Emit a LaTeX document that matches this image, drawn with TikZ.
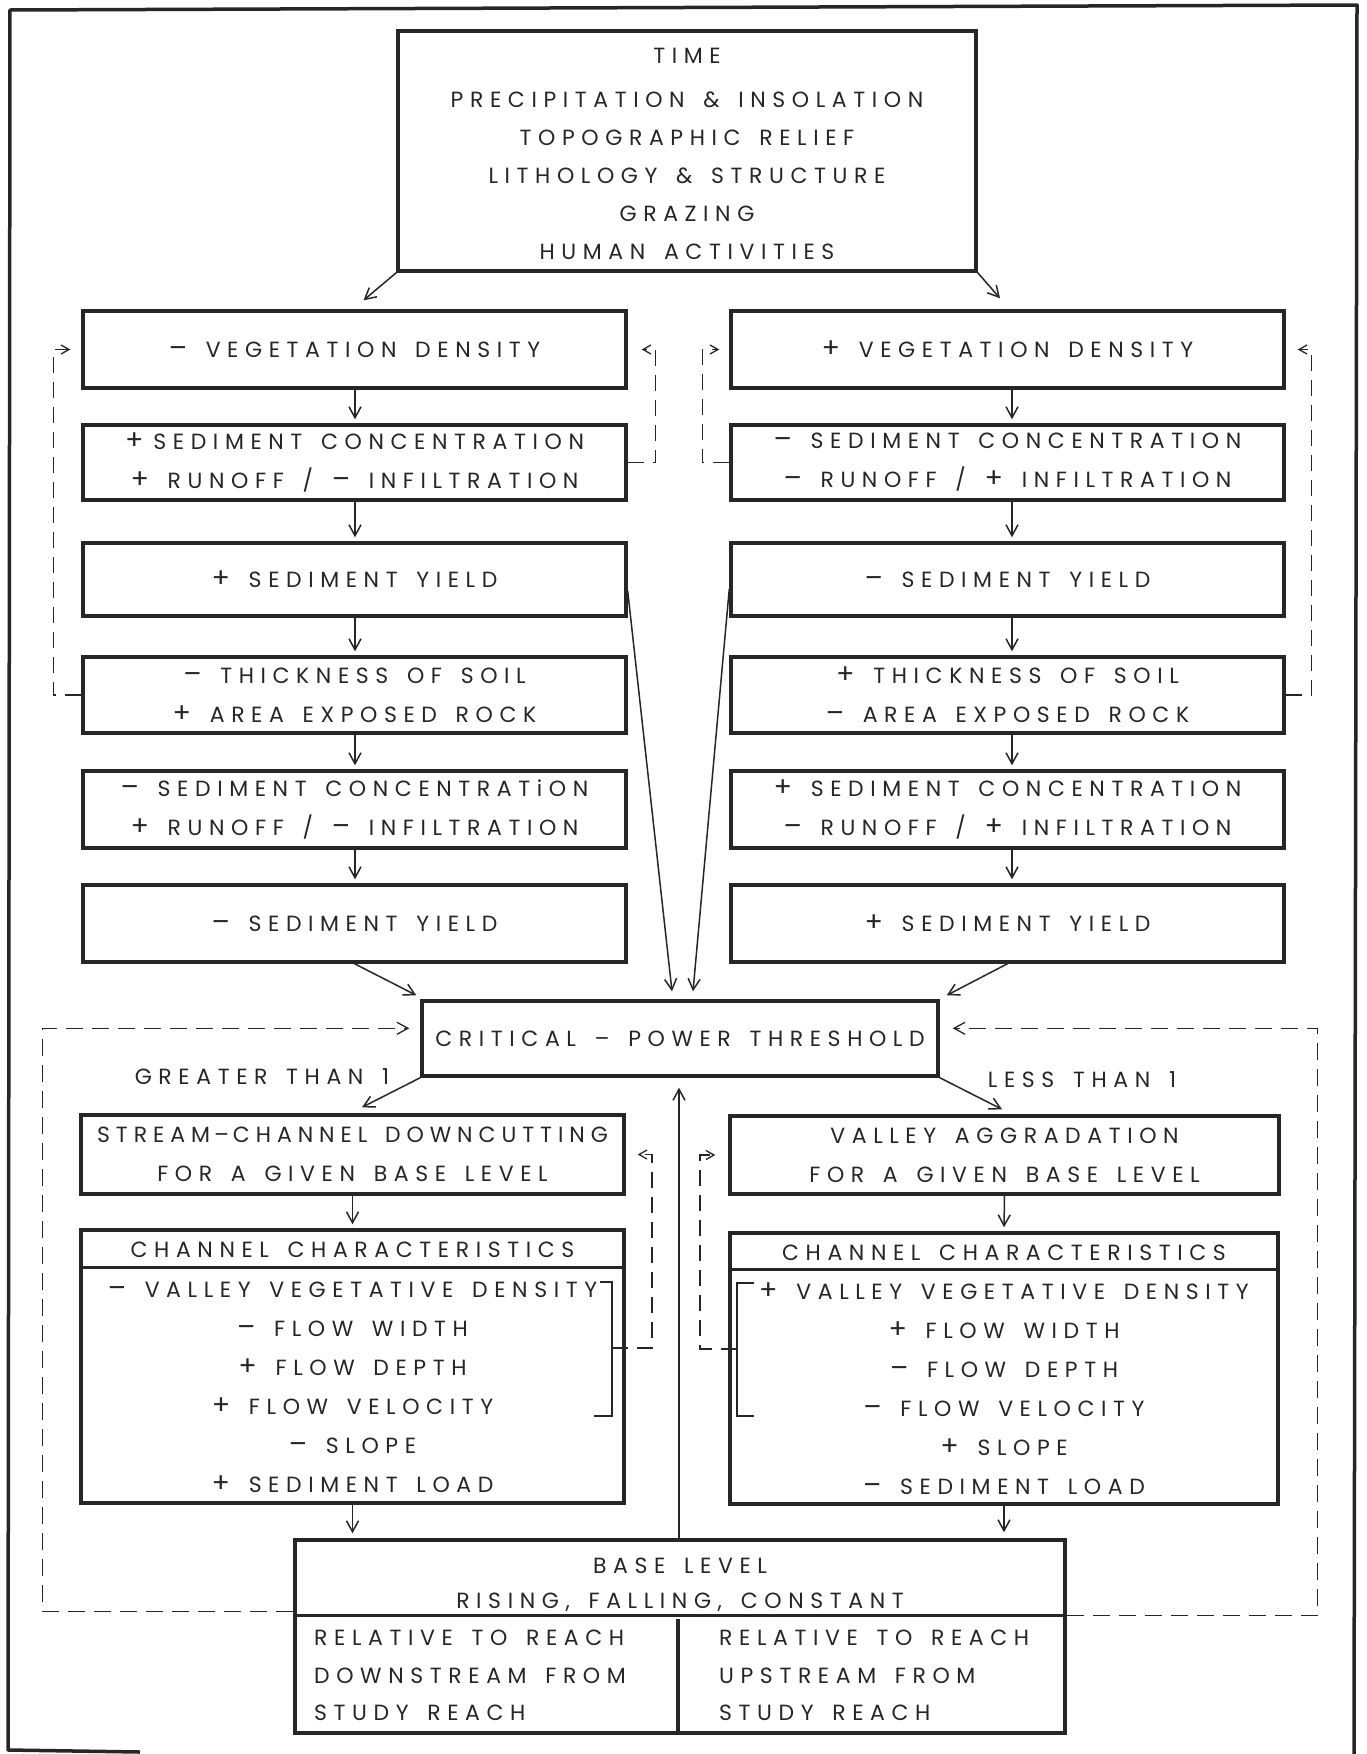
\documentclass[tikz,border=0pt]{standalone}
\usepackage{fontspec}
\setmainfont{Poppins}[LetterSpace=30, WordSpace=1.5]
\usetikzlibrary{arrows.meta,calc}
\newcommand\plusS{{\fontsize{27}{27}\selectfont +}}
\newcommand\minusS{{\fontsize{27}{27}\selectfont –}}
\begin{document}
\begin{tikzpicture}[x=1pt,y=-1pt,
  every node/.style={font=\fontsize{22}{39}\selectfont, text=black!85, inner sep=0pt, align=center},
  box/.style={draw=black!85, line width=3.4pt},
  lbox/.style={box, minimum width=543pt},
  rbox/.style={box, minimum width=553pt},
  arr/.style={draw=black!85, line width=1.5pt, -{Straight Barb[length=11pt,width=12pt]}},
  fb/.style={draw=black!85, line width=1.3pt, dash pattern=on 16pt off 9pt, -{Straight Barb[length=8pt,width=9pt]}},
  fbig/.style={draw=black!85, line width=1.3pt, dash pattern=on 17pt off 9pt, -{Straight Barb[length=11pt,width=12pt]}},
  thick line/.style={draw=black!85, line width=3.4pt}
]
\useasboundingbox (0,0) rectangle (1367,1754);
% outer frame
\draw[line width=3.5pt, draw=black!85, line join=round] (140,1752) -- (8,1750) -- (10,10) -- (1357,5) -- (1354,1754);

% top box
\node[box, minimum width=578pt, minimum height=240pt] (top) at (687,151) {};
\node[font=\fontsize{22}{38}\selectfont] (toptext) at (687,154) {TIME\\[6pt]PRECIPITATION \& INSOLATION\\TOPOGRAPHIC RELIEF\\LITHOLOGY \& STRUCTURE\\GRAZING\\HUMAN ACTIVITIES};

% left column
\node[lbox, minimum height=77pt] (L1) at (354.5,349.5) {\minusS\ VEGETATION DENSITY};
\node[lbox, minimum height=75pt] (L2) at (354.5,462.5) {\plusS\hspace{10pt}SEDIMENT CONCENTRATION\\\plusS\ RUNOFF / \minusS\ INFILTRATION};
\node[lbox, minimum height=73pt] (L3) at (354.5,579.5) {\plusS\ SEDIMENT YIELD};
\node[lbox, minimum height=76pt] (L4) at (354.5,695) {\minusS\ THICKNESS OF SOIL\\\plusS\ AREA EXPOSED ROCK};
\node[lbox, minimum height=77pt] (L5) at (354.5,809.5) {\minusS\ SEDIMENT CONCENTRATiON\\\plusS\ RUNOFF / \minusS\ INFILTRATION};
\node[lbox, minimum height=77pt] (L6) at (354.5,923.5) {\minusS\ SEDIMENT YIELD};

% right column
\node[rbox, minimum height=77pt] (R1) at (1007.5,349.5) {\plusS\ VEGETATION DENSITY};
\node[rbox, minimum height=75pt] (R2) at (1007.5,462.5) {\minusS\ SEDIMENT CONCENTRATION\\\minusS\ RUNOFF / \plusS\ INFILTRATION};
\node[rbox, minimum height=73pt] (R3) at (1007.5,579.5) {\minusS\ SEDIMENT YIELD};
\node[rbox, minimum height=76pt] (R4) at (1007.5,695) {\plusS\ THICKNESS OF SOIL\\\minusS\ AREA EXPOSED ROCK};
\node[rbox, minimum height=77pt] (R5) at (1007.5,809.5) {\plusS\ SEDIMENT CONCENTRATION\\\minusS\ RUNOFF / \plusS\ INFILTRATION};
\node[rbox, minimum height=77pt] (R6) at (1007.5,923.5) {\plusS\ SEDIMENT YIELD};

% critical box
\node[box, minimum width=516pt, minimum height=75pt] (C) at (680,1038.5) {CRITICAL – POWER THRESHOLD};
\node (gt) at (262,1077) {GREATER THAN 1};
\node (lt) at (1082,1080) {LESS THAN 1};

% second level
\node[box, minimum width=543pt, minimum height=79pt] (S) at (352.5,1154.5) {{\addfontfeatures{LetterSpace=27}STREAM\hspace{4pt}–\hspace{4pt}CHANNEL DOWNCUTTING}\\FOR A GIVEN BASE LEVEL};
\node[box, minimum width=549pt, minimum height=78pt] (V) at (1004.5,1155) {VALLEY AGGRADATION\\FOR A GIVEN BASE LEVEL};

% channel characteristics
\node[box, minimum width=543pt, minimum height=273pt] (CL) at (352.5,1366.5) {};
\draw[thick line] ($(CL.north west)+(0,39)$) -- ($(CL.north east)+(0,39)$);
\node (CLh) at (352.5,1250) {CHANNEL CHARACTERISTICS};
\node (CLl) at (352.5,1387.5) {\minusS\ VALLEY VEGETATIVE DENSITY\\\minusS\ FLOW WIDTH\\\plusS\ FLOW DEPTH\\\plusS\ FLOW VELOCITY\\\minusS\ SLOPE\\\plusS\ SEDIMENT LOAD};

\node[box, minimum width=548pt, minimum height=271pt] (CR) at (1004,1368.5) {};
\draw[thick line] ($(CR.north west)+(0,38)$) -- ($(CR.north east)+(0,38)$);
\node (CRh) at (1004,1253) {CHANNEL CHARACTERISTICS};
\node (CRl) at (1004,1388.5) {\plusS\ VALLEY VEGETATIVE DENSITY\\\plusS\ FLOW WIDTH\\\minusS\ FLOW DEPTH\\\minusS\ FLOW VELOCITY\\\plusS\ SLOPE\\\minusS\ SEDIMENT LOAD};

% brackets
\coordinate (brL) at (612,1348);
\coordinate (brR) at (737,1349);
\draw[draw=black!85, line width=1.5pt] (600,1282) -- (612,1282) -- (612,1416) -- (594,1416);
\draw[draw=black!85, line width=1.5pt] (754,1283) -- (737,1283) -- (737,1416) -- (754,1416);

% base level box
\node[box, minimum width=770pt, minimum height=193pt] (B) at (680,1636.5) {};
\draw[thick line] ($(B.north west)+(0,77)$) -- ($(B.north east)+(0,77)$);
\draw[thick line] ($(B.south)+(-2,0)$) -- ($(B.south)+(-2,-116)$);
\node[font=\fontsize{22}{35}\selectfont] (Bt) at (680,1584.5) {BASE LEVEL\\RISING, FALLING, CONSTANT};
\node[anchor=west, align=left, font=\fontsize{22}{37.5}\selectfont] (Bl) at (314,1675.5) {RELATIVE TO REACH\\DOWNSTREAM FROM\\STUDY REACH};
\node[anchor=west, align=left, font=\fontsize{22}{37.5}\selectfont] (Br) at (719,1675.5) {RELATIVE TO REACH\\UPSTREAM FROM\\STUDY REACH};

% arrows from top box
\draw[arr] (top.south west) -- ($(L1.north)+(9,-9)$);
\draw[arr] (top.south east) -- ($(R1.north)+(-7.5,-11)$);

% column arrows
\coordinate (lx) at (355,0);
\coordinate (rx) at (1012,0);
\foreach \a/\b in {L1/L2,L2/L3,L3/L4,L4/L5,L5/L6}
  \draw[arr, shorten >=4pt] (\a.south -| lx) -- (\b.north -| lx);
\foreach \a/\b in {R1/R2,R2/R3,R3/R4,R4/R5,R5/R6}
  \draw[arr, shorten >=4pt] (\a.south -| rx) -- (\b.north -| rx);

% feedback loops (upper)
\draw[fb] (L4.west) -- ++(-28,0) |- ($(L1.west)+(-11,0)$);
\draw[fb] (L2.east) -- ++(28,0) |- ($(L1.east)+(14,0)$);
\draw[fb] (R2.west) -- ++(-27,0) |- ($(R1.west)+(-10,0)$);
\draw[fb] (R4.east) -- ++(26,0) |- ($(R1.east)+(12,0)$);

% long arrows to critical
\draw[arr] ($(L3.north east)!0.65!(L3.south east)$) -- ($(C.north)+(-8,-8)$);
\draw[arr] ($(R3.north west)!0.62!(R3.south west)$) -- ($(C.north)+(13,-8)$);
\draw[arr] (L6.south) -- ($(C.north west)+(-4,-4)$);
\draw[arr] (R6.south) -- ($(C.north east)+(7,-4)$);

% critical to second level
\draw[arr] (C.south west) -- ($(S.north)+(9.5,-6)$);
\draw[arr] (C.south east) -- ($(V.north)+(-2.5,-5)$);
\draw[arr] (S.south) -- ($(CL.north)+(0,-4)$);
\draw[arr] (V.south) -- ($(CR.north)+(0,-4)$);

% channel feedback
\draw[fb] (brL) -- ++(40,0) |- ($(S.east)+(12,0)$);
\draw[fb] (brR) -- ++(-37,0) |- ($(V.west)+(-13,0)$);

% channel to base
\draw[arr] (CL.south) -- ($(CL.south |- B.north)+(0,-5)$);
\draw[arr] (CR.south) -- ($(CR.south |- B.north)+(0,-6)$);
\draw[arr] ($(B.north)+(-1,0)$) -- ($(C.south)+(-1,10)$);

% big feedback loops
\draw[fbig] ($(B.north west)+(0,73)$) -- ++(-251,0) |- ($(C.north west)+(-11,29)$);
\draw[fbig] ($(B.north east)+(0,77)$) -- ++(251,0) |- ($(C.north east)+(13,29)$);
\end{tikzpicture}
\end{document}
